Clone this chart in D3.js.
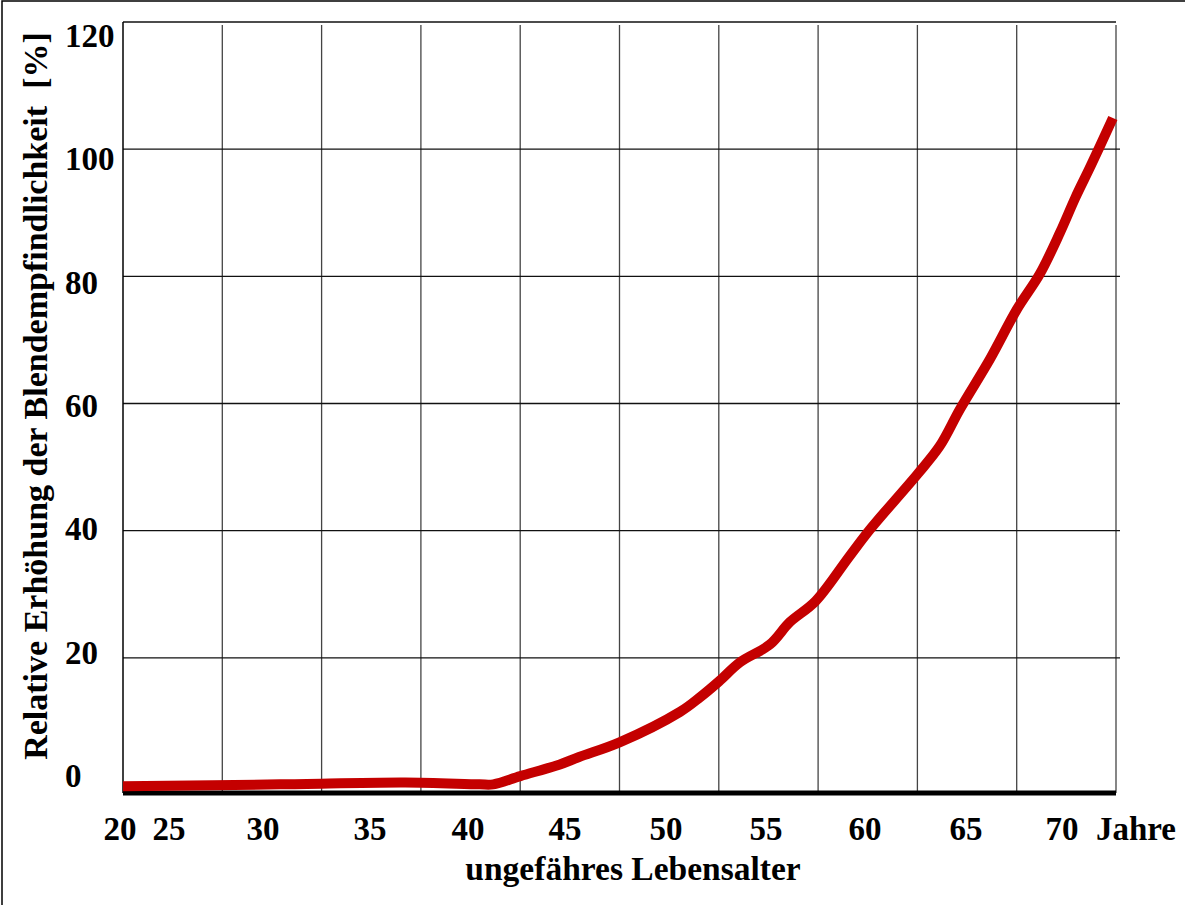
<!DOCTYPE html>
<html>
<head>
<meta charset="utf-8">
<script src="https://cdn.jsdelivr.net/npm/d3@7"></script>
<style>
  html, body { margin: 0; padding: 0; background: #fff; }
  svg { display: block; }
  text { font-family: "Liberation Serif", "Times New Roman", serif; font-weight: bold; fill: #000; }
</style>
</head>
<body>
<svg id="chart" width="1185" height="905"></svg>
<script>
// ---------------- data ----------------
const xTickValues = [20, 25, 30, 35, 40, 45, 50, 55, 60, 65, 70];
const xTickLabels = ["20", "25", "30", "35", "40", "45", "50", "55", "60", "65", "70"];
const xUnitLabel = "Jahre";
const yTickValues = [0, 20, 40, 60, 80, 100, 120];
const yTickLabels = ["0", "20", "40", "60", "80", "100", "120"];
const xTitle = "ungefähres Lebensalter";
const yTitle = "Relative Erhöhung der Blendempfindlichkeit  [%]";

// curve: age (years) and relative increase (%)
const curveAge   = [20, 30.8, 36.8, 40.6, 41.3, 42.7, 44.7, 45.7, 47.7, 50.7, 51.7, 52.65, 53.7, 55.2, 56.2, 57.5, 59.2, 60.25, 62.6, 63.7, 64.7, 66.25, 67.65, 68.85, 69.9, 70.7, 71.5, 72.65];
const curveValue = [-0.2, 0.1, 0.4, 0.1, 0.1, 1.4, 3.2, 4.4, 6.7, 11.5, 13.8, 16.3, 19.3, 22.1, 25.6, 28.9, 35.9, 40.2, 48.9, 53.3, 59.1, 67.0, 74.8, 80.4, 86.9, 92.4, 97.4, 104.9];

// ---------------- layout ----------------
const W = 1185, H = 905;
const plot = { left: 123, right: 1116, top: 22, bottom: 785 };
const nCols = 10;

const svg = d3.select("#chart");

// age -> x (hand-placed age scale of the original, piecewise linear)
const x = d3.scaleLinear()
  .domain(xTickValues)
  .range([120, 169, 263, 370, 468, 565, 666, 766, 865, 966, 1062]);

const y = d3.scaleLinear().domain([0, 120]).range([plot.bottom, plot.top]);
// tick labels in the original are spaced slightly tighter than the grid
const yLabel = d3.scaleLinear().domain([0, 120]).range([787, 47]);

const gridX = d3.scaleLinear().domain([0, nCols]).range([plot.left, plot.right]);

// outer frame
svg.append("path")
  .attr("d", `M2,${H} V1 H${W}`)
  .attr("fill", "none").attr("stroke", "#000").attr("stroke-width", 1.5);

// vertical grid lines
svg.append("g").selectAll("line")
  .data(d3.range(1, nCols + 1))
  .join("line")
  .attr("x1", d => gridX(d)).attr("x2", d => gridX(d))
  .attr("y1", plot.top + 3).attr("y2", plot.bottom + 8)
  .attr("stroke", "#444").attr("stroke-width", 1.3);

// horizontal grid lines
svg.append("g").selectAll("line")
  .data(yTickValues.filter(v => v > 0))
  .join("line")
  .attr("x1", plot.left).attr("x2", d => d === 120 ? plot.right : plot.right + 4)
  .attr("y1", d => y(d)).attr("y2", d => y(d))
  .attr("stroke", "#111").attr("stroke-width", 1.3);

// left axis
svg.append("line")
  .attr("x1", plot.left).attr("x2", plot.left)
  .attr("y1", plot.top).attr("y2", plot.bottom + 8)
  .attr("stroke", "#000").attr("stroke-width", 1.5);

// clip for the curve
svg.append("clipPath").attr("id", "clip")
  .append("rect")
  .attr("x", plot.left).attr("y", 0)
  .attr("width", plot.right - plot.left + 10).attr("height", H);

// bottom thick axis
svg.append("line")
  .attr("x1", plot.left).attr("x2", plot.right)
  .attr("y1", plot.bottom + 8).attr("y2", plot.bottom + 8)
  .attr("stroke", "#000").attr("stroke-width", 5);

// curve
const pts = curveAge.map((a, i) => [a, curveValue[i]]);
const line = d3.line()
  .x(d => x(d[0]))
  .y(d => y(d[1]))
  .curve(d3.curveCatmullRom.alpha(0.5));

svg.append("path")
  .datum(pts)
  .attr("clip-path", "url(#clip)")
  .attr("d", line)
  .attr("fill", "none")
  .attr("stroke", "#c40000")
  .attr("stroke-width", 10)
  .attr("stroke-linecap", "butt")
  .attr("stroke-linejoin", "round");

// y tick labels
svg.append("g").selectAll("text")
  .data(yTickValues)
  .join("text")
  .attr("x", 65)
  .attr("y", d => yLabel(d))
  .attr("text-anchor", "start")
  .style("font-size", "33px")
  .text((d, i) => yTickLabels[i]);

// x tick labels
svg.append("g").selectAll("text")
  .data(xTickValues)
  .join("text")
  .attr("x", d => x(d))
  .attr("y", 840)
  .attr("text-anchor", "middle")
  .style("font-size", "33px")
  .text((d, i) => xTickLabels[i]);

svg.append("text")
  .attr("x", 1136).attr("y", 840)
  .attr("text-anchor", "middle")
  .style("font-size", "33px")
  .text(xUnitLabel);

// x title
svg.append("text")
  .attr("x", 633).attr("y", 880)
  .attr("text-anchor", "middle")
  .style("font-size", "33.5px")
  .style("white-space", "pre")
  .text(xTitle);

// y title
svg.append("text")
  .attr("transform", "translate(47,396) rotate(-90)")
  .attr("text-anchor", "middle")
  .style("font-size", "34px")
  .style("white-space", "pre")
  .text(yTitle);
</script>
</body>
</html>
